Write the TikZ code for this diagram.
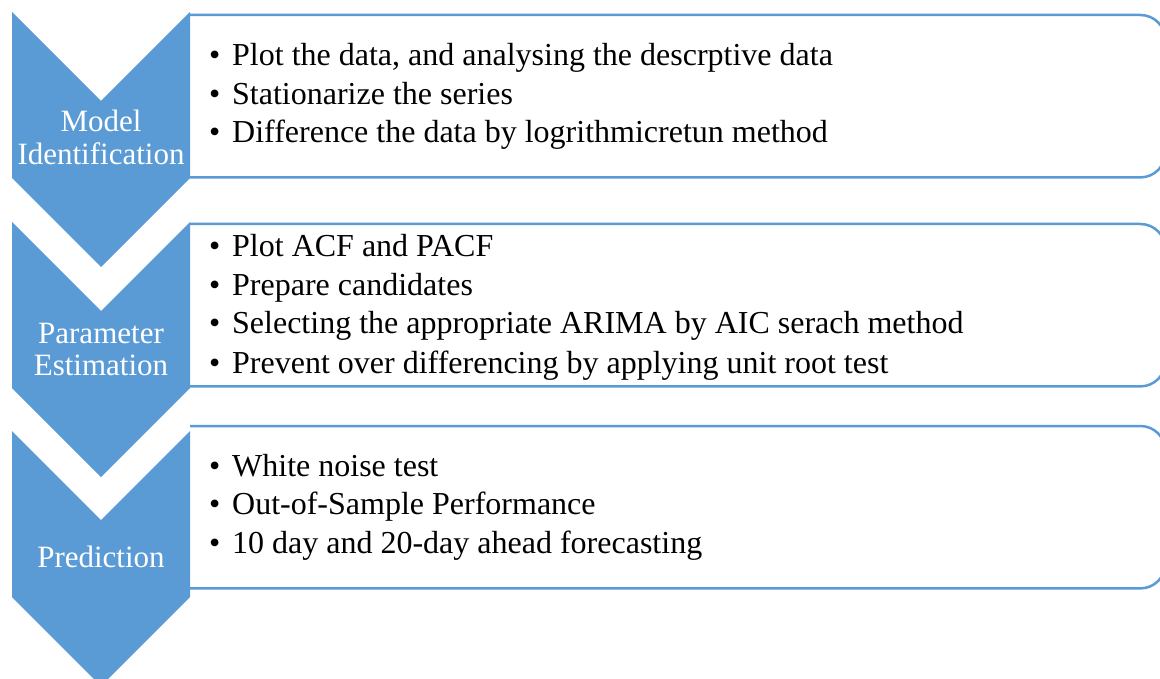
\documentclass[tikz,border=0pt]{standalone}
\usepackage{fontspec}
\setmainfont{Liberation Serif}
\definecolor{chev}{HTML}{5B9BD5}
\tikzset{
  chevron/.style={fill=chev, draw=none},
  boxline/.style={draw=chev, line width=2.5pt, rounded corners=25pt},
  boxarea/.style={rectangle, draw=none, inner sep=0pt, minimum width=975pt, minimum height=162pt, anchor=north west},
  item/.style={anchor=base west, inner sep=0pt, font=\fontsize{32}{38}\selectfont, text=black},
  label/.style={anchor=base, inner sep=0pt, font=\fontsize{31}{34}\selectfont, text=white},
}
\newcommand{\bul}[1]{\makebox[23pt][l]{\textbullet}#1}
\begin{document}
\begin{tikzpicture}[x=1pt, y=-1pt]
\useasboundingbox (0,0) rectangle (1160,679);
\fill[white] (0,0) rectangle (1160,679);
% boxes
\node[boxarea] (b1) at (190,15) {};
\node[boxarea] (b2) at (190,224) {};
\node[boxarea] (b3) at (190,426) {};
\foreach \b in {b1,b2,b3}{
  \draw[boxline] (\b.north west) -- (\b.north east) -- (\b.south east) -- ([xshift=-25pt]\b.south west);
}
% chevrons
\foreach \t in {12,222,431}{
  \fill[chevron] (12,\t) -- (101,\t+89) -- (190,\t) -- (190,\t+166) -- (101,\t+255) -- (12,\t+166) -- cycle;
}
% chevron labels
\node[label] (l1a) at (101,132) {Model};
\node[label] (l1b) at (101,165) {Identification};
\node[label] (l2a) at (101,343) {Parameter};
\node[label] (l2b) at (101,375) {Estimation};
\node[label] (l3a) at (101,567) {Prediction};
% items
\node[item] (i11) at (209,66) {\bul{Plot the data, and analysing the descrptive data}};
\node[item] (i12) at (209,105) {\bul{Stationarize the series}};
\node[item] (i13) at (209,143) {\bul{Difference the data by logrithmicretun method}};
\node[item] (i21) at (209,257) {\bul{Plot ACF and PACF}};
\node[item] (i22) at (209,296) {\bul{Prepare candidates}};
\node[item] (i23) at (209,334) {\bul{Selecting the appropriate ARIMA by AIC serach method}};
\node[item] (i24) at (209,373) {\bul{Prevent over differencing by applying unit root test}};
\node[item] (i31) at (209,476) {\bul{White noise test}};
\node[item] (i32) at (209,514) {\bul{Out-of-Sample Performance}};
\node[item] (i33) at (209,553) {\bul{10 day and 20-day ahead forecasting}};
\end{tikzpicture}
\end{document}
